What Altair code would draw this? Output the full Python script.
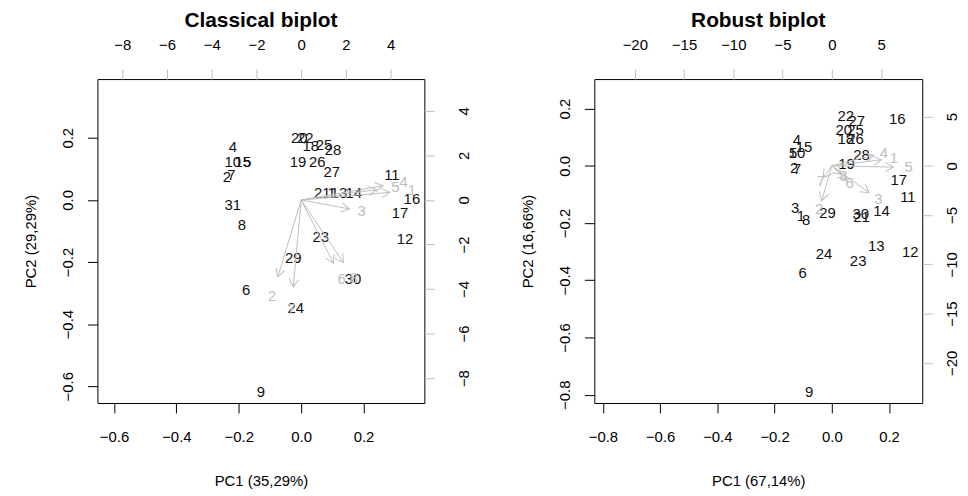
import altair as alt
import pandas as pd
import numpy as np

FONT = "Liberation Sans"
GRAY = "#BEBEBE"

# ---------------- Classical biplot data ----------------
c_obs = ["2", "4", "5", "6", "7", "8", "9", "10", "11", "12", "13", "14", "15", "16",
         "17", "18", "19", "20", "21", "22", "23", "24", "25", "26", "27", "28", "29",
         "30", "31", "1"]
c_pc1 = [-0.238, -0.219, -0.173, -0.176, -0.224, -0.190, -0.129, -0.219, 0.291, 0.333,
         0.121, 0.169, -0.187, 0.355, 0.317, 0.031, -0.010, -0.006, 0.068, 0.013,
         0.063, -0.017, 0.073, 0.052, 0.098, 0.102, -0.025, 0.166, -0.219, 0.098]
c_pc2 = [0.074, 0.170, 0.122, -0.289, 0.079, -0.081, -0.620, 0.122, 0.079, -0.126,
         0.023, 0.023, 0.122, 0.004, -0.041, 0.175, 0.122, 0.198, 0.023, 0.198,
         -0.118, -0.348, 0.177, 0.122, 0.091, 0.159, -0.188, -0.254, -0.017, 0.023]
c_vars = ["1", "2", "3", "4", "5", "6", "7", "8"]
c_load1 = [4.95, -1.30, 2.70, 4.58, 4.21, 1.81, -0.44, 2.36]
c_load2 = [0.43, -4.31, -0.50, 0.80, 0.58, -3.56, -4.89, -3.51]

# ---------------- Robust biplot data ----------------
r_obs = ["1", "2", "3", "4", "5", "6", "7", "8", "9", "10", "11", "12", "13", "14", "15",
         "16", "17", "18", "19", "20", "21", "22", "23", "24", "25", "26", "27", "28",
         "29", "30"]
r_pc1 = [-0.108, -0.132, -0.128, -0.122, -0.135, -0.102, -0.121, -0.090, -0.079, -0.122,
         0.266, 0.274, 0.155, 0.174, -0.097, 0.229, 0.234, 0.049, 0.051, 0.042,
         0.104, 0.049, 0.092, -0.027, 0.083, 0.083, 0.087, 0.104, -0.015, 0.101]
r_pc2 = [-0.175, -0.009, -0.149, 0.090, 0.043, -0.373, -0.013, -0.191, -0.790, 0.044,
         -0.110, -0.300, -0.280, -0.159, 0.067, 0.164, -0.049, 0.095, 0.005, 0.126,
         -0.180, 0.175, -0.333, -0.309, 0.126, 0.095, 0.157, 0.038, -0.165, -0.168]
r_vars = ["1", "2", "3", "4", "5", "6", "7", "8"]
r_load1 = [6.29, -1.28, 4.72, 5.28, 7.81, 1.82, -1.11, 1.21]
r_load2 = [0.76, -4.43, -3.42, 1.34, -0.17, -1.75, -1.51, -1.08]

CHEVRON = "M -1 -0.577 L 0 0 L -1 0.577"


def panel(title, obs, px, py, vars_, l1, l2, xdom, ydom, axdom, aydom,
          xticks, yticks, axticks, ayticks, xtitle, ytitle, w, h, rpad):
    pts = pd.DataFrame({"lab": obs, "x": px, "y": py})
    xs = alt.Scale(domain=xdom, nice=False, zero=False)
    ys = alt.Scale(domain=ydom, nice=False, zero=False)
    xax = alt.Axis(values=xticks, format=".1f", orient="bottom", title=xtitle,
                   titlePadding=29, labelPadding=17, grid=False)
    yax = alt.Axis(values=yticks, format=".1f", orient="left", title=ytitle,
                   labelAngle=270, labelAlign="center", labelBaseline="bottom",
                   labelPadding=12, titlePadding=22, grid=False)
    pts_layer = alt.Chart(pts).mark_text(font=FONT, fontSize=15, color="#111111").encode(
        x=alt.X("x:Q", scale=xs, axis=xax),
        y=alt.Y("y:Q", scale=ys, axis=yax),
        text="lab:N",
    )

    ld = pd.DataFrame({"var": vars_, "u": l1, "v": l2})
    ld["tu"] = 0.8 * ld["u"]
    ld["tv"] = 0.8 * ld["v"]
    ld["u0"] = 0.0
    ld["v0"] = 0.0
    ld["ang"] = (np.degrees(np.arctan2(-ld["v"], ld["u"])) + 360) % 360

    axs = alt.Scale(domain=axdom, nice=False, zero=False)
    ays = alt.Scale(domain=aydom, nice=False, zero=False)
    axax = alt.Axis(values=axticks, format="d", orient="top", title=None,
                    tickColor=GRAY, labelPadding=17, grid=False)
    ayax = alt.Axis(values=ayticks, format="d", orient="right", title=None,
                    tickColor=GRAY, labelAngle=270, labelAlign="center",
                    labelBaseline="top", labelPadding=rpad, grid=False)

    base = alt.Chart(ld)
    rule = base.mark_rule(color=GRAY, strokeWidth=1).encode(
        x=alt.X("u0:Q", scale=axs, axis=axax),
        y=alt.Y("v0:Q", scale=ays, axis=ayax),
        x2="tu:Q", y2="tv:Q",
    )
    heads = base.mark_point(shape=CHEVRON, filled=False, size=260, strokeWidth=1,
                            color=GRAY, opacity=1).encode(
        x=alt.X("tu:Q", scale=axs, axis=axax),
        y=alt.Y("tv:Q", scale=ays, axis=ayax),
        angle=alt.Angle("ang:Q", scale=None),
    )
    labs = base.mark_text(font=FONT, fontSize=15, color=GRAY).encode(
        x=alt.X("u:Q", scale=axs, axis=axax),
        y=alt.Y("v:Q", scale=ays, axis=ayax),
        text="var:N",
    )
    arrows = alt.layer(rule, heads, labs)
    return alt.layer(pts_layer, arrows).resolve_scale(
        x="independent", y="independent").properties(
        width=w, height=h,
        title=alt.TitleParams(title, font=FONT, fontSize=21, fontWeight="bold",
                              anchor="middle", offset=6),
    )


left = panel("Classical biplot", c_obs, c_pc1, c_pc2, c_vars, c_load1, c_load2,
             [-0.653, 0.395], [-0.654, 0.389], [-9.11, 5.51], [-9.12, 5.43],
             [-0.6, -0.4, -0.2, 0.0, 0.2], [-0.6, -0.4, -0.2, 0.0, 0.2],
             [-8, -6, -4, -2, 0, 2, 4], [-8, -6, -4, -2, 0, 2, 4],
             "PC1 (35,29%)", "PC2 (29,29%)", 329, 326, 22)

right = panel("Robust biplot", r_obs, r_pc1, r_pc2, r_vars, r_load1, r_load2,
              [-0.83, 0.316], [-0.829, 0.303], [-24.11, 9.18], [-24.08, 8.80],
              [-0.8, -0.6, -0.4, -0.2, 0.0, 0.2], [-0.8, -0.6, -0.4, -0.2, 0.0, 0.2],
              [-20, -15, -10, -5, 0, 5], [-20, -15, -10, -5, 0, 5],
              "PC1 (67,14%)", "PC2 (16,66%)", 330, 326, 12)

chart = alt.hconcat(left, right, spacing=171, bounds="flush").properties(
    padding={"left": 15, "top": 0, "right": 0, "bottom": 0}
).configure_view(
    stroke="black", strokeWidth=1
).configure_axis(
    labelFont=FONT, labelFontSize=15, titleFont=FONT, titleFontSize=15,
    titleFontWeight="normal", labelColor="black", titleColor="black",
    tickColor="black", tickSize=10, domain=False, grid=False,
)

chart.save("out.html", embed_options={"renderer": "svg", "actions": False})
